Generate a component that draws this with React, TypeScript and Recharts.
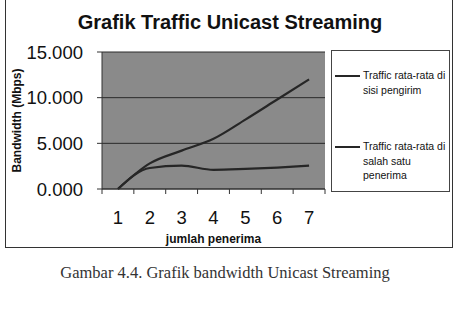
import React from 'react';
import { LineChart, Line, XAxis, YAxis, CartesianGrid, Legend } from 'recharts';

const categories = [1, 2, 3, 4, 5, 6, 7];
const pengirim = [0, 2.8, 4.2, 5.5, 7.6, 9.8, 12.0];
const penerima = [0, 2.3, 2.55, 2.1, 2.2, 2.35, 2.55];
const yTicks = [0, 5, 10, 15];
const seriesNames = ['Traffic rata-rata di sisi pengirim', 'Traffic rata-rata di salah satu penerima'];

const data = categories.map((c, i) => ({ x: c, pengirim: pengirim[i], penerima: penerima[i] }));
const xTicks = [...categories.flatMap((c) => [c - 0.5, c]), categories[categories.length - 1] + 0.5];

const TICK_SIZE = 5;
const TICK_MARGIN = 17;
const FONT = 'Liberation Sans, Arial, sans-serif';

const XTick = (props: any) => {
  const { x, y, payload } = props;
  const v = payload.value;
  const axisY = y - TICK_SIZE - TICK_MARGIN;
  if (Number.isInteger(v)) {
    return (
      <text x={x} y={y} dy="0.71em" textAnchor="middle" fontSize={18.5} fontFamily={FONT} fill="#111">
        {v}
      </text>
    );
  }
  return <line x1={x} y1={axisY} x2={x} y2={axisY + TICK_SIZE} stroke="#333" strokeWidth={1} />;
};

const LegendBox = (props: any) => {
  const payload = props.payload || [];
  const items = seriesNames.map((n) => payload.find((p: any) => p.value === n)).filter(Boolean);
  const tops = [17, 88];
  return (
    <div
      style={{
        position: 'relative',
        width: 119,
        height: 142,
        border: '1px solid #444',
        boxSizing: 'border-box',
        overflow: 'hidden',
        background: '#fff',
        fontFamily: FONT,
        fontSize: 10.5,
        color: '#111',
      }}
    >
      {items.map((p: any, i: number) => (
        <div key={i} style={{ position: 'absolute', left: 3, top: tops[i], display: 'flex', alignItems: 'flex-start' }}>
          <div style={{ width: 25, height: 2, background: p.color, marginTop: 6.5, marginRight: 3, flex: 'none' }} />
          <div style={{ width: 92, lineHeight: '14.5px', whiteSpace: 'normal' }}>{p.value}</div>
        </div>
      ))}
    </div>
  );
};

export default function App() {
  return (
    <div style={{ position: 'absolute', left: 0, top: 0, width: 457, height: 318, background: '#fff', overflow: 'hidden' }}>
      <div
        style={{
          position: 'absolute',
          left: 5,
          top: -1,
          width: 448,
          height: 249,
          border: '1px solid #333',
          boxSizing: 'border-box',
        }}
      />
      <div
        style={{
          position: 'absolute',
          left: 0,
          width: 460,
          top: 10,
          textAlign: 'center',
          fontFamily: FONT,
          fontWeight: 'bold',
          fontSize: 20,
          lineHeight: '24px',
          color: '#111',
        }}
      >
        Grafik Traffic Unicast Streaming
      </div>
      <div style={{ position: 'absolute', left: 0, top: 0 }}>
        <LineChart width={457} height={318} data={data} margin={{ top: 52, right: 132, bottom: 69, left: 0 }}>
          <CartesianGrid vertical={false} stroke="#2a2a2a" fill="#8a8a8a" fillOpacity={1} />
          <XAxis
            dataKey="x"
            type="number"
            domain={[0.5, 7.5]}
            ticks={xTicks}
            interval={0}
            height={60}
            tickLine={false}
            tickSize={TICK_SIZE}
            tickMargin={TICK_MARGIN}
            tick={<XTick />}
            axisLine={{ stroke: '#333' }}
            label={{
              value: 'jumlah penerima',
              position: 'insideBottom',
              offset: 6,
              style: { fontFamily: FONT, fontWeight: 'bold', fontSize: 12, fill: '#111' },
            }}
          />
          <YAxis
            width={102}
            domain={[0, 15]}
            ticks={yTicks}
            interval={0}
            tickSize={5}
            tickMargin={14}
            tickFormatter={(v: number) => v.toFixed(3)}
            tick={{ fontFamily: FONT, fontSize: 18.5, fill: '#111' }}
            tickLine={{ stroke: '#333' }}
            axisLine={{ stroke: '#333' }}
            label={{
              value: 'Bandwidth (Mbps)',
              angle: -90,
              position: 'insideLeft',
              offset: 17,
              style: { textAnchor: 'middle', fontFamily: FONT, fontWeight: 'bold', fontSize: 12, fill: '#111' },
            }}
          />
          <Legend
            layout="vertical"
            align="center"
            verticalAlign="middle"
            content={<LegendBox />}
            wrapperStyle={{ position: 'absolute', left: 331, top: 50, width: 119, height: 142 }}
          />
          <Line
            type="monotone"
            dataKey="pengirim"
            name={seriesNames[0]}
            stroke="#262626"
            strokeWidth={2.2}
            dot={false}
            isAnimationActive={false}
          />
          <Line
            type="monotone"
            dataKey="penerima"
            name={seriesNames[1]}
            stroke="#262626"
            strokeWidth={2.2}
            dot={false}
            isAnimationActive={false}
          />
        </LineChart>
      </div>
      <div
        style={{
          position: 'absolute',
          left: 0,
          width: 450,
          top: 262,
          textAlign: 'center',
          fontFamily: 'Liberation Serif, Times New Roman, serif',
          fontSize: 16.5,
          lineHeight: '22px',
          color: '#333',
        }}
      >
        Gambar 4.4. Grafik bandwidth Unicast Streaming
      </div>
    </div>
  );
}
